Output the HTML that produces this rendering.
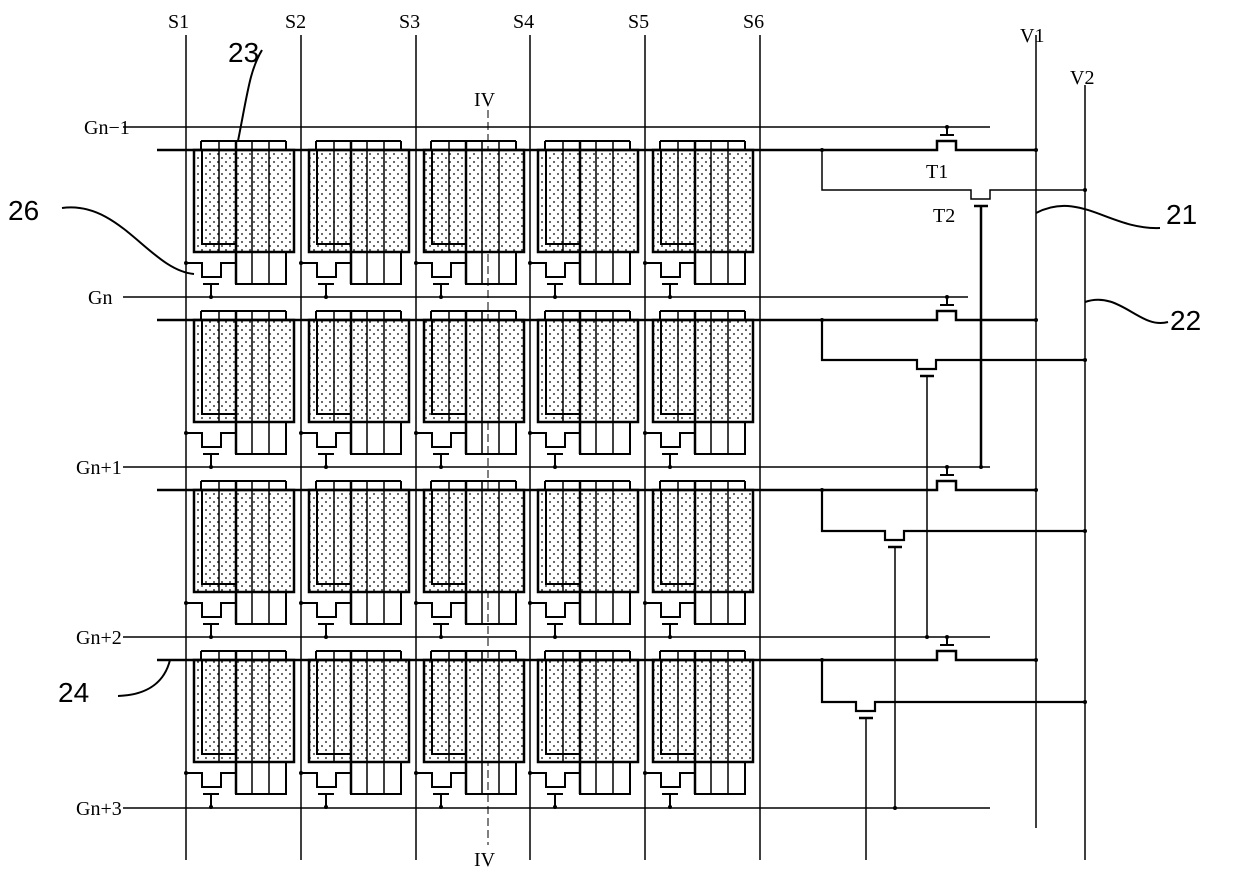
<!DOCTYPE html>
<html><head><meta charset="utf-8"><style>
html,body{margin:0;padding:0;background:#fff}
svg{display:block}
text{font-family:"Liberation Serif",serif;font-size:20px;fill:#000}
.n{font-family:"Liberation Sans",sans-serif;font-size:28px}
</style></head><body>
<svg id="s" width="1240" height="878" viewBox="0 0 1240 878" xmlns="http://www.w3.org/2000/svg">
<defs>
<pattern id="dots" width="8" height="8" patternUnits="userSpaceOnUse">
<rect width="8" height="8" fill="#fff"/><circle cx="2" cy="2" r="0.9" fill="#000"/><circle cx="6" cy="6" r="0.9" fill="#000"/>
</pattern>
</defs>
<g id="g" stroke="#000" fill="none" stroke-width="1.5"></g>
<text x="168" y="28">S1</text><text x="285" y="28">S2</text><text x="399" y="28">S3</text>
<text x="513" y="28">S4</text><text x="628" y="28">S5</text><text x="743" y="28">S6</text>
<text x="1020" y="42">V1</text><text x="1070" y="84">V2</text>
<text x="474" y="106">IV</text><text x="474" y="866">IV</text>
<text x="84" y="134">Gn−1</text><text x="88" y="304">Gn</text><text x="76" y="474">Gn+1</text>
<text x="76" y="644">Gn+2</text><text x="76" y="815">Gn+3</text>
<text x="926" y="178">T1</text><text x="933" y="222">T2</text>
<text class="n" x="228" y="62">23</text><text class="n" x="8" y="220">26</text>
<text class="n" x="1166" y="224">21</text><text class="n" x="1170" y="330">22</text>
<text class="n" x="58" y="702">24</text>
</svg>
<script>
var g=document.getElementById('g'),h='';
function L(x1,y1,x2,y2,w){h+='<line x1="'+x1+'" y1="'+y1+'" x2="'+x2+'" y2="'+y2+'"'+(w?' stroke-width="'+w+'"':'')+'/>';}
function P(d,w){h+='<path d="'+d+'"'+(w?' stroke-width="'+w+'"':'')+'/>';}
function D(x,y){h+='<circle cx="'+x+'" cy="'+y+'" r="2" fill="#000" stroke="none"/>';}
var S=[186,301,416,530,645,760];
S.forEach(function(x){L(x,35,x,860);});
L(1036,35,1036,828);L(1085,85,1085,860);
var G=[127,297,467,637,808],Gend=[990,968,990,990,990];
G.forEach(function(y,i){L(123,y,Gend[i],y);});
h+='<line x1="488" y1="110" x2="488" y2="845" stroke-dasharray="8,4" stroke-width="1"/>';
var B=[150,320,490,660],T2x=[971,917,885,856],T2g=[467,637,808,860],br=[190,360,531,702];
for(var r=0;r<4;r++){
 var o=r*170;
 for(var c=0;c<5;c++){
  var dx=S[c]-186;
  h+='<rect x="'+(194+dx)+'" y="'+(150+o)+'" width="100" height="102" fill="url(#dots)" stroke="#000" stroke-width="2.5"/>';
  L(201+dx,141+o,286+dx,141+o,2);L(201+dx,141+o,201+dx,150+o,2);L(286+dx,141+o,286+dx,150+o,2);
  [219,252,269].forEach(function(x){L(x+dx,141+o,x+dx,252+o,1.5);});
  P('M'+(202+dx)+' '+(150+o)+'V'+(244+o)+'H'+(236+dx),2);
  L(236+dx,141+o,236+dx,284+o,2.5);
  P('M'+(236+dx)+' '+(252+o)+'V'+(284+o)+'H'+(286+dx)+'V'+(252+o),2);
  L(252+dx,252+o,252+dx,284+o);L(269+dx,252+o,269+dx,284+o);
  P('M'+(186+dx)+' '+(263+o)+'H'+(202+dx)+'V'+(277+o)+'H'+(221+dx)+'V'+(263+o)+'H'+(236+dx),2);
  D(186+dx,263+o);
  L(203+dx,284+o,219+dx,284+o,2);L(211+dx,284+o,211+dx,297+o,2);D(211+dx,297+o);
 }
 var b=B[r];
 P('M157 '+b+'H937V'+(b-9)+'H956V'+b+'H1036',2.5);D(1036,b);D(822,b);
 L(940,b-15,954,b-15,2);L(947,b-15,947,b-23,2);D(947,b-23);
 var t=T2x[r],y=br[r];
 P('M822 '+b+'V'+y+'H'+t+'V'+(y+9)+'H'+(t+19)+'V'+y+'H1085',r==0?1.5:2.2);D(1085,y);
 L(t+3,y+16,t+17,y+16,2.5);L(t+10,y+16,t+10,T2g[r],r==0?2.5:1.5);
 if(r<3)D(t+10,T2g[r]);
}
P('M262 50C250 70 248 90 238 141',2);
P('M62 208C120 200 150 270 194 274',2);
P('M1036 213C1080 190 1110 230 1160 228',2);
P('M1085 302C1120 290 1140 330 1168 322',2);
P('M118 696C150 695 165 680 170 660',2);
g.innerHTML=h;
</script>
</body></html>
